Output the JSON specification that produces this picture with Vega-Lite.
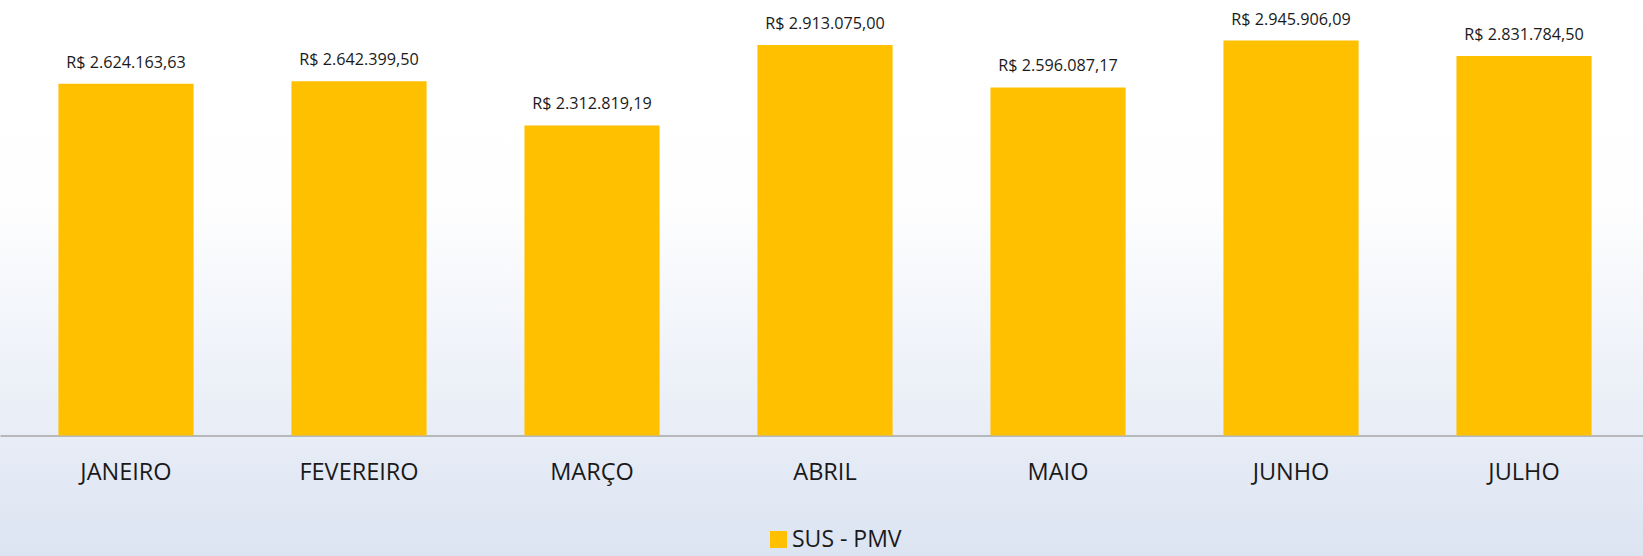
{
  "$schema": "https://vega.github.io/schema/vega-lite/v6.json",
  "width": 1643,
  "height": 556,
  "autosize": "none",
  "padding": 0,
  "background": "#ffffff",
  "config": {
    "view": {"stroke": null, "fill": {"gradient": "linear", "x1": 0, "y1": 0, "x2": 0, "y2": 1, "stops": [{"offset": 0, "color": "#ffffff"}, {"offset": 0.36, "color": "#fefefe"}, {"offset": 1, "color": "#dce4f2"}]}},
    "locale": {"number": {"decimal": ",", "thousands": ".", "grouping": [3], "currency": ["R$ ", ""]}},
    "font": "Open Sans"
  },
  "data": {
    "values": [
      {"mes": "JANEIRO", "valor": 2624163.63, "serie": "SUS - PMV"},
      {"mes": "FEVEREIRO", "valor": 2642399.50, "serie": "SUS - PMV"},
      {"mes": "MARÇO", "valor": 2312819.19, "serie": "SUS - PMV"},
      {"mes": "ABRIL", "valor": 2913075.00, "serie": "SUS - PMV"},
      {"mes": "MAIO", "valor": 2596087.17, "serie": "SUS - PMV"},
      {"mes": "JUNHO", "valor": 2945906.09, "serie": "SUS - PMV"},
      {"mes": "JULHO", "valor": 2831784.50, "serie": "SUS - PMV"}
    ]
  },
  "encoding": {
    "x": {
      "field": "mes", "type": "nominal", "sort": null,
      "scale": {"paddingInner": 0.42, "paddingOuter": 0.2357, "align": 0.532},
      "axis": {"title": null, "orient": "bottom", "offset": -120.5, "domainColor": "#a6a6a6", "domainWidth": 1.5, "ticks": false, "labelAngle": 0, "labelFont": "Open Sans", "labelFontSize": 23.5, "labelColor": "#1a1a1a", "labelPadding": 25, "labelBaseline": "top"}
    },
    "y": {
      "field": "valor", "type": "quantitative",
      "scale": {"domain": [-898930, 3248830], "nice": false, "zero": false},
      "axis": null
    }
  },
  "layer": [
    {
      "mark": {"type": "bar", "fill": "#FFC000"},
      "encoding": {
        "color": {
          "field": "serie", "type": "nominal",
          "scale": {"range": ["#FFC000"]},
          "legend": {"title": null, "orient": "none", "legendX": 767, "legendY": 528, "symbolType": "square", "symbolSize": 289, "symbolStrokeWidth": 0, "symbolOpacity": 1, "labelFont": "Open Sans", "labelFontSize": 23, "labelColor": "#1a1a1a", "labelOffset": 2, "padding": 0}
        }
      }
    },
    {
      "mark": {"type": "text", "baseline": "alphabetic", "dy": -16, "fontSize": 16.2, "font": "Open Sans", "color": "#1a1a1a"},
      "encoding": {
        "text": {"field": "valor", "type": "quantitative", "format": "$,.2f"}
      }
    }
  ]
}
